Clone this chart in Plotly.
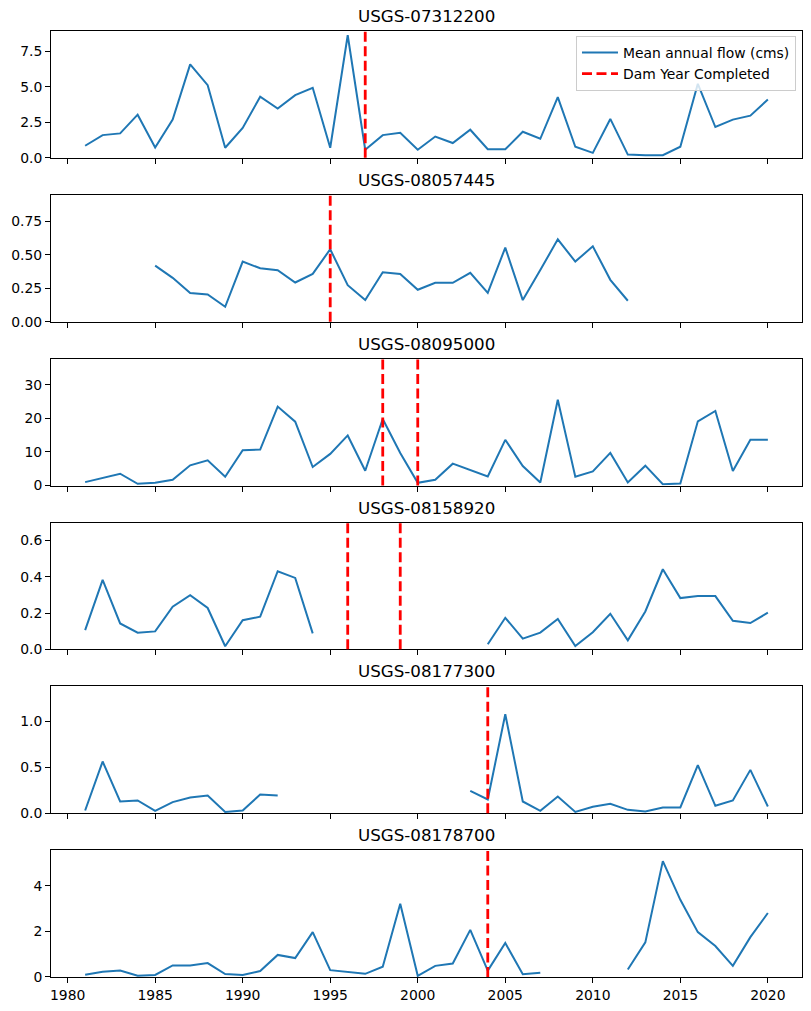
import plotly.graph_objects as go
from plotly.subplots import make_subplots

YEARS = [1981, 1982, 1983, 1984, 1985, 1986, 1987, 1988, 1989, 1990,
         1991, 1992, 1993, 1994, 1995, 1996, 1997, 1998, 1999, 2000,
         2001, 2002, 2003, 2004, 2005, 2006, 2007, 2008, 2009, 2010,
         2011, 2012, 2013, 2014, 2015, 2016, 2017, 2018, 2019, 2020]

STATIONS = ["USGS-07312200", "USGS-08057445", "USGS-08095000",
            "USGS-08158920", "USGS-08177300", "USGS-08178700"]

FLOW_07312200 = [0.85, 1.6, 1.72, 3.04, 0.73, 2.69, 6.58, 5.12, 0.71, 2.1,
                 4.3, 3.47, 4.41, 4.93, 0.71, 8.63, 0.57, 1.6, 1.77, 0.57,
                 1.5, 1.04, 1.98, 0.61, 0.6, 1.84, 1.34, 4.27, 0.78, 0.35,
                 2.74, 0.23, 0.18, 0.19, 0.78, 5.21, 2.17, 2.69, 2.97, 4.1]
FLOW_08057445 = [None, None, None, None, 0.418, 0.327, 0.213, 0.203, 0.111, 0.448,
                 0.398, 0.384, 0.292, 0.356, 0.54, 0.272, 0.161, 0.369, 0.356, 0.238,
                 0.29, 0.29, 0.364, 0.215, 0.552, 0.161, 0.385, 0.614, 0.448, 0.562,
                 0.312, 0.156, None, None, None, None, None, None, None, None]
FLOW_08095000 = [1.0, 2.2, 3.5, 0.5, 0.8, 1.7, 6.0, 7.5, 2.6, 10.5,
                 10.7, 23.5, 19.0, 5.5, 9.4, 14.9, 4.4, 19.8, 9.7, 0.8,
                 1.7, 6.5, 4.6, 2.7, 13.6, 5.8, 0.9, 25.5, 2.6, 4.2,
                 9.7, 0.9, 5.9, 0.4, 0.6, 19.1, 22.2, 4.3, 13.6, 13.6]
FLOW_08158920 = [0.106, 0.383, 0.143, 0.092, 0.099, 0.235, 0.299, 0.228, 0.017, 0.161,
                 0.18, 0.431, 0.394, 0.088, None, None, None, None, None, None,
                 None, None, None, 0.028, 0.174, 0.059, 0.092, 0.167, 0.018, 0.094,
                 0.196, 0.05, 0.209, 0.442, 0.283, 0.294, 0.294, 0.158, 0.145, 0.202]
FLOW_08177300 = [0.029, 0.562, 0.127, 0.138, 0.025, 0.12, 0.17, 0.192, 0.014, 0.029,
                 0.203, 0.192, None, None, None, None, None, None, None, None,
                 None, None, 0.243, 0.149, 1.076, 0.127, 0.025, 0.181, 0.014, 0.069,
                 0.101, 0.036, 0.018, 0.062, 0.062, 0.522, 0.08, 0.138, 0.471, 0.072]
FLOW_08178700 = [0.10, 0.23, 0.28, 0.06, 0.09, 0.51, 0.51, 0.61, 0.13, 0.09,
                 0.26, 0.97, 0.83, 1.97, 0.30, 0.22, 0.14, 0.45, 3.22, 0.05,
                 0.49, 0.59, 2.07, 0.28, 1.49, 0.12, 0.19, None, None, None,
                 None, 0.33, 1.52, 5.09, 3.39, 1.97, 1.36, 0.49, 1.75, 2.81]

DAM_07312200 = [1997]
DAM_08057445 = [1995]
DAM_08095000 = [1998, 2000]
DAM_08158920 = [1996, 1999]
DAM_08177300 = [2004]
DAM_08178700 = [2004]

FLOWS = [FLOW_07312200, FLOW_08057445, FLOW_08095000,
         FLOW_08158920, FLOW_08177300, FLOW_08178700]
DAMS = [DAM_07312200, DAM_08057445, DAM_08095000,
        DAM_08158920, DAM_08177300, DAM_08178700]

Y_LIMITS = [8.93, 0.946, 37.75, 0.70, 1.38, 5.57]
Y_TICKS = [[0, 2.5, 5.0, 7.5], [0, 0.25, 0.5, 0.75], [0, 10, 20, 30],
           [0, 0.2, 0.4, 0.6], [0, 0.5, 1.0], [0, 2, 4]]
Y_TICKTEXT = [["0.0", "2.5", "5.0", "7.5"], ["0.00", "0.25", "0.50", "0.75"],
              ["0", "10", "20", "30"], ["0.0", "0.2", "0.4", "0.6"],
              ["0.0", "0.5", "1.0"], ["0", "2", "4"]]
X_TICKS = [1980, 1985, 1990, 1995, 2000, 2005, 2010, 2015, 2020]
X_RANGE = [1979.05, 2021.95]

BLUE = "#1f77b4"
RED = "#ff0000"
FONT = "DejaVu Sans"
FS = 13.9

H_PLOT = 1011 - 31 - 34
fig = make_subplots(rows=6, cols=1, shared_xaxes=True,
                    vertical_spacing=37 / H_PLOT,
                    subplot_titles=STATIONS)

for i, (flow, dams) in enumerate(zip(FLOWS, DAMS)):
    r = i + 1
    fig.add_trace(go.Scatter(x=YEARS, y=flow, mode="lines",
                             line=dict(color=BLUE, width=2),
                             connectgaps=False,
                             name="Mean annual flow (cms)",
                             showlegend=(i == 0), legendrank=1),
                  row=r, col=1)
    xref = "x" if r == 1 else f"x{r}"
    yref = "y domain" if r == 1 else f"y{r} domain"
    for d in dams:
        fig.add_shape(type="line", x0=d, x1=d, y0=0, y1=1,
                      xref=xref, yref=yref, layer="above",
                      line=dict(color=RED, width=2.8, dash="10px,4.5px"))
    if i == 0:
        fig.add_trace(go.Scatter(x=[None], y=[None], mode="lines",
                                 line=dict(color=RED, width=2.8, dash="10px,4.5px"),
                                 name="Dam Year Completed", showlegend=True,
                                 legendrank=2),
                      row=1, col=1)
    fig.update_yaxes(range=[0, Y_LIMITS[i]], tickvals=Y_TICKS[i],
                     ticktext=Y_TICKTEXT[i], row=r, col=1)

fig.update_xaxes(range=X_RANGE, tickvals=X_TICKS,
                 ticks="outside", ticklen=5, tickwidth=1, tickcolor="black",
                 showline=True, linecolor="black", linewidth=1, mirror=True,
                 showgrid=False, zeroline=False,
                 tickfont=dict(family=FONT, size=FS, color="black"))
fig.update_yaxes(ticks="outside", ticklen=5, tickwidth=1, tickcolor="black",
                 showline=True, linecolor="black", linewidth=1, mirror=True,
                 showgrid=False, zeroline=False,
                 tickfont=dict(family=FONT, size=FS, color="black"))

for ann in fig.layout.annotations:
    ann.font = dict(family=FONT, size=16.7, color="black")
    ann.yshift = 3

fig.update_layout(
    width=811, height=1011,
    margin=dict(l=51, r=9, t=31, b=34),
    plot_bgcolor="white", paper_bgcolor="white",
    font=dict(family=FONT, size=FS, color="black"),
    legend=dict(x=0.992, y=0.9947, xanchor="right", yanchor="top",
                bgcolor="rgba(255,255,255,0.8)", bordercolor="#cccccc",
                borderwidth=1, font=dict(family=FONT, size=FS, color="black"),
                tracegroupgap=0, itemwidth=36),
)

fig.write_html("out.html")
